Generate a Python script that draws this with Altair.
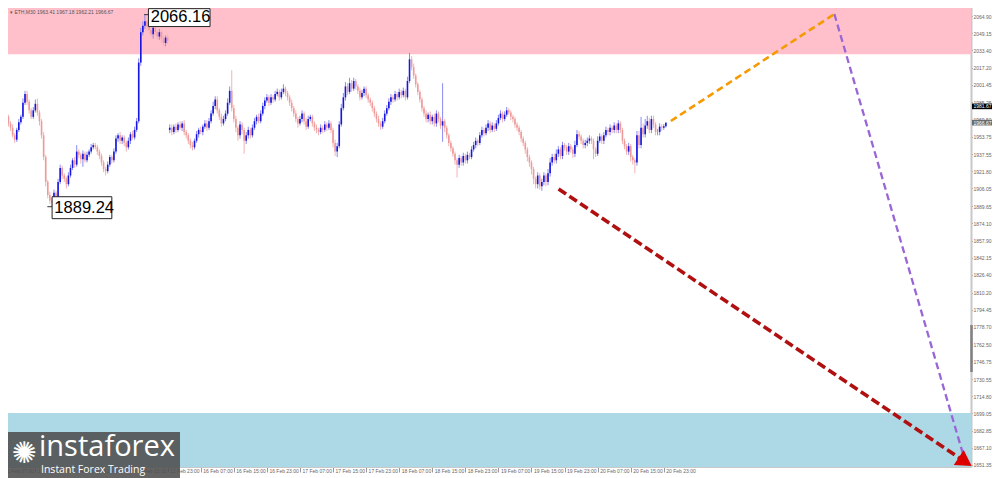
import altair as alt
import pandas as pd

# ---------------- data ----------------
closes = [
    1950, 1958, 1968, 1972, 1966, 1962, 1955, 1951, 1960, 1967, 1972, 1985, 1993, 1986, 1978, 1972, 1978, 1984, 1976, 1968,
    1955, 1935, 1912, 1900, 1895, 1893, 1902, 1898, 1912, 1925, 1918, 1915, 1910, 1918, 1925, 1932, 1928, 1940, 1937, 1933,
    1938, 1932, 1937, 1940, 1944, 1946, 1944, 1940, 1936, 1930, 1924, 1922, 1928, 1935, 1932, 1940, 1952, 1955, 1950, 1953,
    1948, 1944, 1950, 1956, 1953, 1960, 1968, 2022, 2050, 2056, 2060, 2055, 2052, 2048, 2054, 2050, 2046, 2050, 2044, 2040,
    2045, 2042, 1962, 1958, 1963, 1960, 1965, 1962, 1966, 1958, 1955, 1950, 1946, 1944, 1950, 1956, 1960, 1958, 1963, 1966,
    1962, 1968, 1975, 1982, 1988, 1978, 1972, 1966, 1970, 1975, 1985, 1996, 1980, 1970, 1962, 1955, 1965, 1960, 1950, 1955,
    1960, 1955, 1962, 1968, 1972, 1968, 1975, 1982, 1987, 1990, 1985, 1990, 1988, 1993, 1995, 1990, 1995, 1998, 1994, 1990,
    1985, 1980, 1975, 1970, 1966, 1970, 1975, 1968, 1963, 1970, 1972, 1966, 1962, 1960, 1958, 1962, 1960, 1965, 1962, 1966,
    1960, 1948, 1940, 1945, 1965, 1980, 1990, 2000, 1995, 2003, 1998, 2005, 2000, 1996, 1990, 1994, 1998, 1992, 1988, 1985,
    1980, 1975, 1970, 1966, 1963, 1968, 1975, 1980, 1986, 1990, 1988, 1993, 1990, 1995, 1992, 1996, 1990, 2005, 2025, 2018,
    2010, 2002, 1995, 1988, 1980, 1975, 1970, 1974, 1968, 1972, 1966, 1975, 1970, 1964, 1968, 1962, 1955, 1948, 1943, 1938,
    1932, 1928, 1934, 1930, 1936, 1932, 1937, 1935, 1942, 1946, 1950, 1948, 1955, 1960, 1957, 1962, 1966, 1960, 1964, 1961,
    1966, 1971, 1975, 1970, 1974, 1978, 1976, 1972, 1970, 1965, 1962, 1958, 1952, 1948, 1942, 1935, 1930, 1924, 1915, 1910,
    1918, 1908, 1912, 1918, 1912, 1920, 1930, 1935, 1932, 1938, 1942, 1936, 1946, 1944, 1940, 1945, 1942, 1938, 1946, 1956,
    1954, 1950, 1946, 1948, 1950, 1952, 1950, 1942, 1938, 1950, 1954, 1950, 1955, 1960, 1958, 1962, 1960, 1964, 1960, 1966,
    1960, 1950, 1945, 1940, 1945, 1935, 1932, 1930, 1955, 1946, 1962, 1956, 1964, 1968, 1960, 1970, 1965, 1958, 1958, 1963,
    1962, 1963.41, 1966.67,
]
upper_wicks = [
    2, 3, 2, 4, 2, 2, 3, 2, 2, 3, 2, 4, 3, 3, 2, 2, 3, 4, 5, 2,
    2, 3, 2, 2, 3, 2, 3, 2, 3, 3, 2, 2, 2, 3, 3, 2, 3, 6, 2, 2,
    3, 2, 3, 2, 3, 2, 2, 2, 2, 2, 2, 2, 3, 2, 2, 3, 3, 2, 3, 2,
    2, 2, 3, 2, 3, 3, 3, 4, 4, 4, 6.16, 2, 3, 4, 2, 3, 2, 3, 2, 3,
    2, 3, 3, 3, 2, 3, 2, 3, 2, 3, 2, 2, 2, 3, 2, 3, 2, 3, 2, 3,
    3, 3, 3, 4, 3, 3, 2, 3, 3, 3, 4, 4, 19, 3, 3, 2, 3, 2, 2, 3,
    3, 2, 3, 3, 2, 3, 3, 3, 3, 3, 2, 3, 2, 3, 3, 2, 3, 4, 2, 2,
    2, 3, 2, 3, 2, 3, 3, 2, 3, 3, 2, 2, 2, 3, 2, 3, 2, 3, 2, 3,
    2, 2, 3, 3, 3, 4, 4, 4, 3, 5, 3, 3, 2, 2, 3, 3, 2, 2, 2, 2,
    2, 2, 2, 3, 2, 3, 3, 3, 3, 3, 2, 3, 2, 3, 2, 3, 2, 4, 6, 3,
    3, 2, 2, 2, 2, 2, 3, 2, 3, 2, 3, 3, 2, 2, 35, 2, 2, 2, 2, 2,
    2, 2, 3, 2, 3, 2, 3, 2, 3, 3, 3, 2, 3, 3, 2, 3, 3, 2, 3, 2,
    3, 3, 3, 2, 3, 3, 2, 2, 2, 2, 2, 2, 2, 2, 2, 2, 2, 2, 2, 2,
    3, 2, 3, 3, 2, 4, 4, 3, 3, 4, 3, 2, 3, 2, 2, 3, 2, 2, 4, 4,
    3, 2, 2, 3, 3, 3, 2, 2, 2, 4, 3, 2, 3, 3, 2, 3, 2, 3, 2, 3,
    2, 2, 2, 2, 3, 2, 2, 2, 4, 4, 10, 4, 6, 5, 3, 3, 3, 2, 3, 3,
    2, 2, 0.51,
]
lower_wicks = [
    3, 2, 2, 2, 3, 3, 2, 3, 2, 2, 2, 2, 2, 3, 3, 2, 2, 2, 3, 4,
    3, 3, 4, 3, 3, 3.76, 2, 3, 2, 2, 3, 3, 4, 2, 2, 2, 3, 2, 3, 4,
    7, 2, 2, 2, 2, 2, 2, 3, 3, 3, 3, 4, 2, 2, 3, 2, 2, 3, 3, 3,
    3, 4, 2, 3, 2, 2, 2, 2, 3, 3, 3, 4, 3, 3, 4, 3, 3, 3, 4, 3,
    3, 3, 3, 3, 2, 3, 2, 2, 3, 3, 3, 3, 3, 3, 2, 2, 3, 2, 3, 2,
    3, 2, 2, 2, 3, 3, 3, 3, 2, 2, 2, 2, 3, 3, 4, 5, 3, 4, 12, 3,
    3, 3, 2, 2, 3, 2, 2, 2, 3, 2, 3, 2, 3, 2, 2, 3, 2, 2, 3, 3,
    3, 3, 3, 3, 4, 2, 3, 3, 3, 2, 2, 3, 3, 3, 3, 2, 3, 2, 3, 2,
    3, 4, 4, 5, 2, 2, 2, 3, 3, 2, 3, 2, 3, 3, 3, 2, 3, 3, 3, 3,
    3, 3, 3, 3, 3, 2, 2, 2, 2, 3, 3, 2, 3, 2, 3, 2, 3, 2, 2, 3,
    3, 3, 3, 3, 3, 3, 3, 3, 3, 3, 3, 3, 3, 3, 15, 4, 3, 3, 3, 3,
    4, 12, 3, 3, 3, 3, 3, 2, 2, 2, 3, 3, 2, 2, 3, 2, 3, 3, 2, 3,
    2, 2, 2, 3, 2, 2, 2, 3, 3, 3, 3, 3, 3, 3, 4, 4, 4, 5, 5, 4,
    4, 3, 4, 3, 4, 3, 3, 3, 3, 3, 3, 3, 3, 3, 3, 3, 3, 4, 3, 2,
    3, 3, 3, 3, 3, 3, 3, 9, 3, 2, 2, 3, 3, 2, 3, 3, 3, 3, 3, 3,
    3, 3, 3, 3, 3, 4, 4, 10, 3, 3, 3, 3, 3, 3, 3, 3, 3, 3, 3, 3,
    3, 2, 1.2,
]
first_open = 1960.0
gap_opens = {82: 1960.0}   # price gap after the break in data

price_ticks = [2064.90, 2049.15, 2033.40, 2017.20, 2001.45, 1985.25, 1969.50, 1953.75, 1937.55,
               1921.80, 1906.05, 1889.65, 1874.10, 1857.90, 1842.15, 1826.40, 1810.20, 1794.45,
               1778.70, 1762.50, 1746.75, 1730.55, 1714.80, 1699.05, 1682.85, 1667.10, 1651.35]
time_tick_bars = [1, 17, 33, 49, 65, 81, 97, 113, 129, 145, 161, 177, 193, 209, 225, 241, 257, 273, 289, 305, 321]
time_tick_labels = ["11 Feb 07:00", "11 Feb 15:00", "11 Feb 23:00", "12 Feb 07:00", "12 Feb 15:00",
                    "12 Feb 23:00", "16 Feb 07:00", "16 Feb 15:00", "16 Feb 23:00", "17 Feb 07:00",
                    "17 Feb 15:00", "17 Feb 23:00", "18 Feb 07:00", "18 Feb 15:00", "18 Feb 23:00",
                    "19 Feb 07:00", "19 Feb 15:00", "19 Feb 23:00", "20 Feb 07:00", "20 Feb 15:00",
                    "20 Feb 23:00"]

resistance_zone = [2029.6, 2079.64]
support_zone = [1649.5, 1699.3]
ask_price = 1981.67
bid_price = 1966.67
header_text = "▾  ETH,M30  1963.41 1967.18 1962.21 1966.67"

# forecast paths (bar index, price)
orange_path = {"bar": [324.4, 403.5], "price": [1968.2, 2066.7]}
purple_path = {"bar": [403.5, 467.0], "price": [2066.7, 1653.2]}
red_path = {"bar": [270.1, 466.8], "price": [1905.6, 1654.3]}

# ---------------- build tables ----------------
opens = [first_open] + closes[:-1]
for k, v in gap_opens.items():
    opens[k] = v
rows = []
for i, (o, c, uw, lw) in enumerate(zip(opens, closes, upper_wicks, lower_wicks)):
    rows.append(dict(i=i, open=o, close=c, high=max(o, c) + uw, low=min(o, c) - lw,
                     dir="up" if c >= o else "down"))
df = pd.DataFrame(rows)

hi_idx = int(df["high"].idxmax())
lo_idx = int(df["low"].idxmin())
hi_val = round(float(df.loc[hi_idx, "high"]), 2)
lo_val = round(float(df.loc[lo_idx, "low"]), 2)

PW, PH = 971, 467
XMIN, XMAX = -0.1, 469.6
YMIN, YMAX = 1649.5, 2079.64
xs = alt.Scale(domain=[XMIN, XMAX], nice=False, zero=False)
ys = alt.Scale(domain=[YMIN, YMAX], nice=False, zero=False)

label_js = "[" + ",".join("'%s'" % s for s in time_tick_labels) + "]"

x_axis = alt.Axis(values=time_tick_bars, labelExpr=label_js + "[round((datum.value-1)/16)]",
                  labelAlign="left", labelBaseline="top", labelOffset=2, labelPadding=-4,
                  tickSize=5, tickColor="#999999", domainColor="#c8c8c8", domainWidth=1,
                  labelFontSize=5, labelColor="#666666", labelFont="Liberation Sans",
                  grid=False, title=None, labelOverlap=False)
y_axis = alt.Axis(orient="right", values=price_ticks, labelExpr="format(datum.value, '.2f')",
                  tickSize=1.5, tickColor="#999999", domainColor="#c8c8c8", domainWidth=2,
                  labelFontSize=5, labelColor="#666666", labelFont="Liberation Sans",
                  labelPadding=0.5, grid=False, title=None, labelOverlap=False)


def X(field):
    return alt.X(field, scale=xs, axis=x_axis)


def Y(field):
    return alt.Y(field, scale=ys, axis=y_axis)


res_layer = alt.Chart(pd.DataFrame({"y1": [resistance_zone[0]], "y2": [resistance_zone[1]]})).mark_rect(
    color="#ffc0cb").encode(x=alt.value(0), x2=alt.value(PW), y=Y("y1:Q"), y2="y2:Q")
sup_layer = alt.Chart(pd.DataFrame({"y1": [support_zone[0]], "y2": [support_zone[1]]})).mark_rect(
    color="#add8e6").encode(x=alt.value(0), x2=alt.value(PW), y=Y("y1:Q"), y2="y2:Q")

is_up = alt.datum.dir == "up"
wicks = alt.Chart(df).mark_rule(strokeWidth=1).encode(
    x=X("i:Q"), y=Y("low:Q"), y2="high:Q",
    color=alt.condition(is_up, alt.value("#8a8af2"), alt.value("#f3b3b3")),
)
bodies = alt.Chart(df).mark_rule(strokeWidth=1.6).encode(
    x=X("i:Q"), y=Y("open:Q"), y2="close:Q",
    color=alt.condition(is_up, alt.value("#1616e0"), alt.value("#ef9a9a")),
)

# extreme labels
ext = pd.DataFrame({
    "bx1": [hi_idx + 1.7, lo_idx + 0.1],
    "bx2": [hi_idx + 31.5, lo_idx + 29.0],
    "by1": [hi_val + 5.5, lo_val + 9.2],
    "by2": [hi_val - 11.0, lo_val - 11.0],
    "tx": [hi_idx + 2.8, lo_idx + 1.2],
    "ty": [hi_val - 2.6, lo_val - 0.8],
    "mx1": [hi_idx - 0.4, lo_idx - 2.2],
    "mx2": [hi_idx + 1.7, lo_idx + 0.1],
    "my": [hi_val, lo_val],
    "txt": ["%.2f" % hi_val, "%.2f" % lo_val],
})
ext_box = alt.Chart(ext).mark_rect(fill="white", stroke="#222222", strokeWidth=1).encode(
    x=X("bx1:Q"), x2="bx2:Q", y=Y("by1:Q"), y2="by2:Q")
ext_mark = alt.Chart(ext).mark_rule(color="#333333", strokeWidth=1).encode(
    x=X("mx1:Q"), x2="mx2:Q", y=Y("my:Q"))
ext_text = alt.Chart(ext).mark_text(align="left", baseline="middle", fontSize=16.5,
                                     font="Liberation Sans", color="#000000").encode(
    x=X("tx:Q"), y=Y("ty:Q"), text="txt:N")


def path_layer(p, color, width, dash):
    d = pd.DataFrame({"bar": p["bar"], "price": p["price"], "o": [0, 1]})
    return alt.Chart(d).mark_line(color=color, strokeWidth=width, strokeDash=dash).encode(
        x=X("bar:Q"), y=Y("price:Q"), order="o:Q")


orange = path_layer(orange_path, "#f59a00", 2.6, [7, 4])
purple = path_layer(purple_path, "#9a66d6", 2.3, [7, 4])
red = path_layer(red_path, "#b01010", 3.6, [9, 4])

arrow = alt.Chart(pd.DataFrame({"bar": [red_path["bar"][1]], "price": [red_path["price"][1]]})).mark_point(
    shape="triangle-right", filled=True, size=320, angle=33.7, color="#dd0000", opacity=1).encode(
    x=X("bar:Q"), y=Y("price:Q"))


# price boxes on the right scale
def price_box(p, fill):
    d = pd.DataFrame({"p": [p], "y1": [p + 2.6], "y2": [p - 2.6], "txt": ["%.2f" % p]})
    box = alt.Chart(d).mark_rect(color=fill).encode(
        x=alt.value(PW + 1), x2=alt.value(PW + 21), y=Y("y1:Q"), y2="y2:Q")
    txt = alt.Chart(d).mark_text(align="left", baseline="middle", fontSize=5, font="Liberation Sans",
                                 color="white").encode(x=alt.value(PW + 2.5), y=Y("p:Q"), text="txt:N")
    return box + txt


ask_box = price_box(ask_price, "#000000")
bid_box = price_box(bid_price, "#6c6c6c")
scroll = alt.Chart(pd.DataFrame({"a": [1780.3], "b": [1737.0]})).mark_rule(color="#808080", strokeWidth=2.5).encode(
    x=alt.value(PW + 0.5), y=Y("a:Q"), y2="b:Q")

header = alt.Chart(pd.DataFrame({"t": [header_text]})).mark_text(
    align="left", baseline="middle", fontSize=5, font="Liberation Sans", color="#555555").encode(
    x=alt.value(10), y=alt.value(11.5), text="t:N")

# logo overlay
logo_bg = alt.Chart(pd.DataFrame({"a": [0]})).mark_rect(color="#4e4e4e", opacity=0.88).encode(
    x=alt.value(0), x2=alt.value(180), y=alt.value(432), y2=alt.value(478))
logo_icon = alt.Chart(pd.DataFrame({"t": ["✺"]})).mark_text(
    align="center", baseline="middle", fontSize=30, font="DejaVu Sans", color="white").encode(
    x=alt.value(24), y=alt.value(454), text="t:N")
logo_name = alt.Chart(pd.DataFrame({"t": ["instaforex"]})).mark_text(
    align="left", baseline="middle", fontSize=29, font="Open Sans", color="white").encode(
    x=alt.value(39), y=alt.value(447), text="t:N")
logo_tag = alt.Chart(pd.DataFrame({"t": ["Instant Forex Trading"]})).mark_text(
    align="left", baseline="middle", fontSize=10.5, font="Open Sans", color="white").encode(
    x=alt.value(41), y=alt.value(469.5), text="t:N")

chart = alt.layer(
    res_layer, sup_layer, wicks, bodies, ext_mark, ext_box, ext_text,
    orange, purple, red, arrow, ask_box, bid_box, scroll, header,
    logo_bg, logo_icon, logo_name, logo_tag,
).properties(
    width=PW, height=PH,
    padding={"left": -8, "top": -8, "right": 21, "bottom": 11},
    autosize=alt.AutoSizeParams(type="none"),
    background="white",
).configure_view(strokeWidth=0)

chart.save("out.html", embed_options={"renderer": "svg", "actions": False})
